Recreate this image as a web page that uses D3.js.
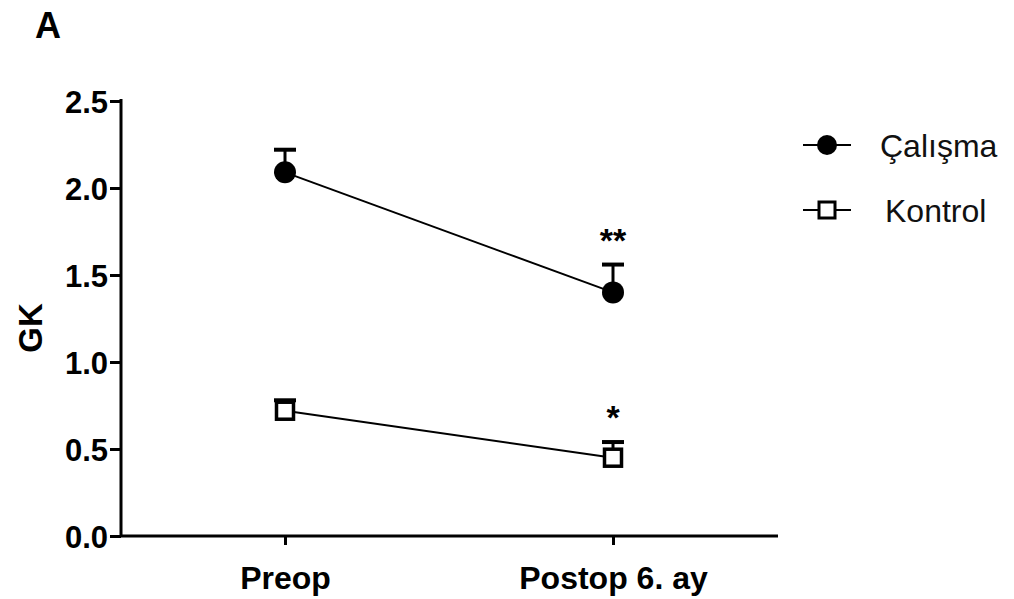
<!DOCTYPE html>
<html>
<head>
<meta charset="utf-8">
<script src="https://cdn.jsdelivr.net/npm/d3@7"></script>
<style>
  body { margin: 0; background: #fff; }
  text { font-family: "Liberation Sans", Arial, sans-serif; }
</style>
</head>
<body>
<div id="chart"></div>
<script>
const categories = ["Preop", "Postop 6. ay"];
const calismaMean = [2.09, 1.40];
const calismaErr = [0.13, 0.16];
const kontrolMean = [0.72, 0.45];
const kontrolErr = [0.06, 0.09];
const stars = ["", "**"];
const kontrolStars = ["", "*"];
const yTicks = [0, 0.5, 1.0, 1.5, 2.0, 2.5];

const width = 1014, height = 599;
const svg = d3.select("#chart").append("svg")
  .attr("width", width).attr("height", height);

const x = d3.scalePoint().domain(categories).range([285, 613]);
const y = d3.scaleLinear().domain([0, 2.5]).range([536, 101]);

// Axes
const yAxis = svg.append("g")
  .attr("transform", "translate(121,0)")
  .call(d3.axisLeft(y).tickValues(yTicks).tickFormat(d3.format(".1f")).tickSize(11).tickPadding(2));
yAxis.select(".domain").attr("d", "M0,99V536").attr("stroke-width", 3);
yAxis.selectAll(".tick line").attr("stroke-width", 3);
yAxis.selectAll(".tick text").attr("font-size", 31).attr("font-weight", "bold").attr("fill", "#000").attr("dy", "0.36em");

const xAxis = svg.append("g")
  .attr("transform", "translate(0,536)")
  .call(d3.axisBottom(x).tickSize(9).tickPadding(21));
xAxis.select(".domain").attr("d", "M120,0H778").attr("stroke-width", 3);
xAxis.selectAll(".tick line").attr("stroke-width", 3);
xAxis.selectAll(".tick text").attr("font-size", 32).attr("font-weight", "bold").attr("fill", "#000");

svg.append("text").attr("x", 48).attr("y", 38)
  .attr("font-size", 36).attr("font-weight", "bold").attr("text-anchor", "middle").text("A");

svg.append("text")
  .attr("transform", "translate(42,328) rotate(-90)")
  .attr("font-size", 33).attr("font-weight", "bold").attr("text-anchor", "middle").text("GK");

const line = d3.line().x((d, i) => x(categories[i])).y(d => y(d));

function series(means, errs, sym, marks) {
  const g = svg.append("g");
  g.append("path").datum(means).attr("d", line)
    .attr("fill", "none").attr("stroke", "#000").attr("stroke-width", 2);
  means.forEach((m, i) => {
    const cx = x(categories[i]);
    const top = y(m + errs[i]);
    g.append("line").attr("x1", cx).attr("x2", cx).attr("y1", y(m)).attr("y2", top)
      .attr("stroke", "#000").attr("stroke-width", 3);
    g.append("line").attr("x1", cx - 11).attr("x2", cx + 11).attr("y1", top).attr("y2", top)
      .attr("stroke", "#000").attr("stroke-width", 4);
    if (sym === "circle") {
      g.append("circle").attr("cx", cx).attr("cy", y(m)).attr("r", 11).attr("fill", "#000");
    } else {
      g.append("rect").attr("x", cx - 8.5).attr("y", y(m) - 8.5).attr("width", 17).attr("height", 17)
        .attr("fill", "#fff").attr("stroke", "#000").attr("stroke-width", 3.5);
    }
    if (marks[i]) {
      g.append("text").attr("x", cx).attr("y", top - 13)
        .attr("font-size", 34).attr("font-weight", "bold").attr("text-anchor", "middle").text(marks[i]);
    }
  });
}
series(calismaMean, calismaErr, "circle", stars);
series(kontrolMean, kontrolErr, "square", kontrolStars);

// Legend
const legend = [
  { label: "Çalışma", sym: "circle", y: 145, tx: 880 },
  { label: "Kontrol", sym: "square", y: 210, tx: 885 }
];
legend.forEach(l => {
  svg.append("line").attr("x1", 803).attr("x2", 851).attr("y1", l.y).attr("y2", l.y)
    .attr("stroke", "#000").attr("stroke-width", 2);
  if (l.sym === "circle") {
    svg.append("circle").attr("cx", 827).attr("cy", l.y).attr("r", 10).attr("fill", "#000");
  } else {
    svg.append("rect").attr("x", 819).attr("y", l.y - 8).attr("width", 16).attr("height", 16)
      .attr("fill", "#fff").attr("stroke", "#000").attr("stroke-width", 3);
  }
  svg.append("text").attr("x", l.tx).attr("y", l.y).attr("dy", "0.36em")
    .attr("font-size", 32).attr("fill", "#111").text(l.label);
});
</script>
</body>
</html>
